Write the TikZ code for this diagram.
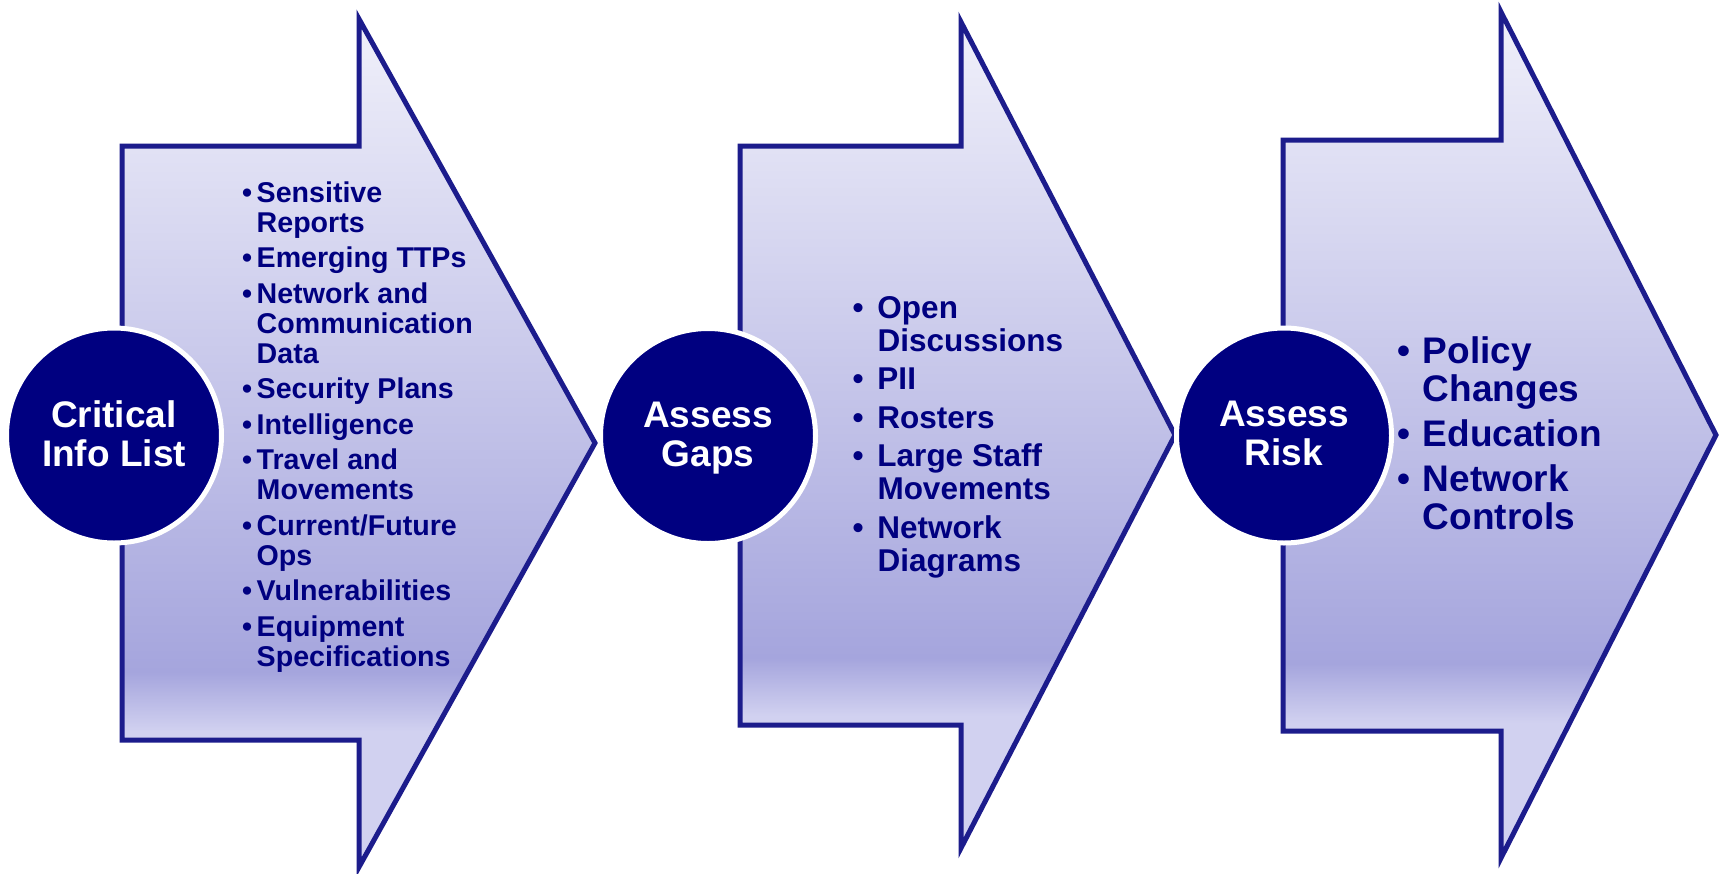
\documentclass[tikz,border=0pt]{standalone}
\usepackage{fontspec}
\setmainfont{Liberation Sans}

\definecolor{navyfill}{HTML}{000080}
\definecolor{arrowline}{HTML}{1C1C8C}
\definecolor{shadehi}{HTML}{F0F0FA}
\definecolor{shadedark}{HTML}{A5A5DD}
\definecolor{shadelo}{HTML}{D1D1F0}
\pgfdeclareverticalshading{arrowshade}{100bp}{color(0bp)=(shadelo); color(33bp)=(shadelo); color(36.5bp)=(shadedark); color(75bp)=(shadehi); color(100bp)=(shadehi)}

\newcommand{\bul}[1]{\makebox[#1]{\textbullet}}

\tikzset{
    arrowbox/.style={draw=arrowline, line width=5pt, line join=miter, shade, shading=arrowshade},
    hub/.style={circle, fill=navyfill, draw=white, line width=5pt, minimum size=215pt, inner sep=0pt},
    hubtext/.style={text=white, align=center, inner sep=0pt, font=\bfseries\fontsize{37}{39}\selectfont},
    listtext/.style={anchor=base west, inner sep=0pt, text=navyfill},
}

\begin{document}
\begin{tikzpicture}[x=1pt,y=-1pt]
    \useasboundingbox (0,0) rectangle (1720,873);
    \fill[white] (0,0) rectangle (1720,873);

    % the three arrows
    \draw[arrowbox] (122,146) -- (359,146) -- (359,19) -- (595,443) -- (359,867) -- (359,740) -- (122,740) -- cycle;
    \draw[arrowbox] (740,146) -- (961,146) -- (961,22) -- (1175,435) -- (961,848) -- (961,725) -- (740,725) -- cycle;
    \draw[arrowbox] (1283,140) -- (1501,140) -- (1501,12) -- (1716,435) -- (1501,858) -- (1501,731) -- (1283,731) -- cycle;

    % circles
    \node[hub] (critical) at (114,435.5) {};
    \node[hub] (gaps) at (708,436) {};
    \node[hub] (risk) at (1284,435.5) {};
    \node[hubtext] (criticaltext) at ([yshift=-4pt]critical.center) {Critical\\Info List\strut};
    \node[hubtext] (gapstext) at ([yshift=-4pt]gaps.center) {Assess\\Gaps\strut};
    \node[hubtext] (risktext) at ([yshift=-4pt]risk.center) {Assess\\Risk\strut};

    % lists
    \node[listtext, font=\bfseries\fontsize{28.6}{30}\selectfont] (infolist) at (237.5,202.3) {%
        \begin{tabular}[t]{@{}c@{}l@{}}
        \bul{19pt} & Sensitive\\
        & Reports\\[5.5pt]
        \bul{19pt} & Emerging TTPs\\[5.5pt]
        \bul{19pt} & Network and\\
        & Communication\\
        & Data\\[5.5pt]
        \bul{19pt} & Security Plans\\[5.5pt]
        \bul{19pt} & Intelligence\\[5.5pt]
        \bul{19pt} & Travel and\\
        & Movements\\[5.5pt]
        \bul{19pt} & Current/Future\\
        & Ops\\[5.5pt]
        \bul{19pt} & Vulnerabilities\\[5.5pt]
        \bul{19pt} & Equipment\\
        & Specifications
        \end{tabular}};

    \node[listtext, font=\bfseries\fontsize{31.5}{33.3}\selectfont] (gapslist) at (838.7,318.3) {%
        \begin{tabular}[t]{@{}c@{}l@{}}
        \bul{38.6pt} & Open\\
        & Discussions\\[5pt]
        \bul{38.6pt} & PII\\[5pt]
        \bul{38.6pt} & Rosters\\[5pt]
        \bul{38.6pt} & Large Staff\\
        & Movements\\[5pt]
        \bul{38.6pt} & Network\\
        & Diagrams
        \end{tabular}};

    \node[listtext, font=\bfseries\fontsize{37}{38.3}\selectfont] (risklist) at (1385.3,363.3) {%
        \begin{tabular}[t]{@{}c@{}l@{}}
        \bul{37.4pt} & Policy\\
        & Changes\\[6.7pt]
        \bul{37.4pt} & Education\\[6.7pt]
        \bul{37.4pt} & Network\\
        & Controls
        \end{tabular}};
\end{tikzpicture}
\end{document}
